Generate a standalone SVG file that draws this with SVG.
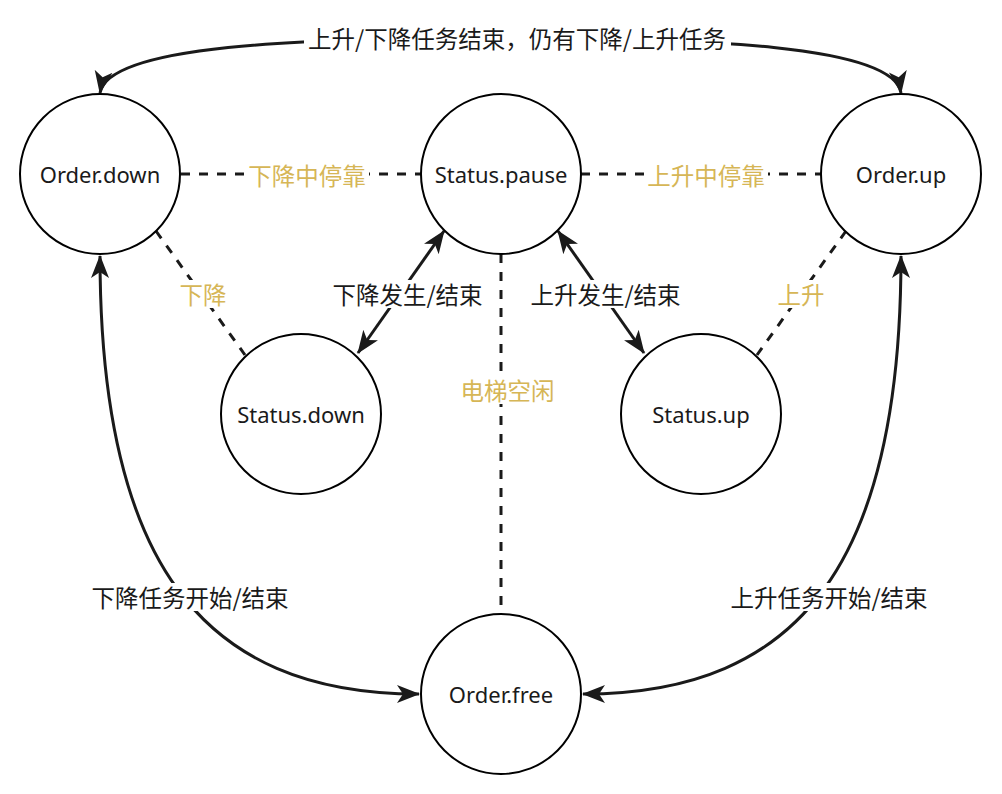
<svg xmlns="http://www.w3.org/2000/svg" width="1002" height="794" viewBox="0 0 1002 794">
<defs>
<marker id="arr" markerUnits="userSpaceOnUse" markerWidth="24" markerHeight="20" viewBox="0 0 24 20" refX="22" refY="10" orient="auto-start-reverse">
<path d="M0,1 L23,10 L0,19 L6,10 z" fill="#1a1a1a"/>
</marker>
</defs>
<style>
.node circle{fill:#fff;stroke:#000;stroke-width:2}
.node text{font-family:"Noto Sans","Liberation Sans",sans-serif;font-size:22px;fill:#1a1a1a;text-anchor:middle;dominant-baseline:central}
.solid{fill:none;stroke:#1a1a1a;stroke-width:3}
.dash{fill:none;stroke:#1a1a1a;stroke-width:3;stroke-dasharray:9 9}
.lbl{font-family:"Noto Sans CJK SC","Noto Sans",sans-serif;font-size:23.5px;text-anchor:middle;dominant-baseline:central;fill:#1a1a1a}
.gold{fill:#d6b656}
.bg{fill:#fff}
</style>
<g id="connectors">
<path class="solid" d="M100,93 C108,45 300,38 501,38 C702,38 894,45 901,93" marker-start="url(#arr)" marker-end="url(#arr)"/>
<line class="dash" x1="181" y1="174" x2="421" y2="174"/>
<line class="dash" x1="581" y1="174" x2="821" y2="174"/>
<line class="dash" x1="156" y1="231" x2="245" y2="355"/>
<line class="dash" x1="846" y1="231" x2="757" y2="355"/>
<line class="dash" x1="501" y1="254" x2="501" y2="614"/>
<line class="solid" x1="444" y1="231" x2="358" y2="353" marker-start="url(#arr)" marker-end="url(#arr)"/>
<line class="solid" x1="558" y1="231" x2="644" y2="353" marker-start="url(#arr)" marker-end="url(#arr)"/>
<path class="solid" d="M100,256 C100,560 200,694 419,694" marker-start="url(#arr)" marker-end="url(#arr)"/>
<path class="solid" d="M901,256 C901,560 802,694 583,694" marker-start="url(#arr)" marker-end="url(#arr)"/>
</g>
<g id="labels">
<rect class="bg" x="304" y="25" width="427" height="28"/>
<text class="lbl" x="517" y="38">上升/下降任务结束，仍有下降/上升任务</text>
<rect class="bg" x="245" y="161" width="124" height="28"/>
<text class="lbl gold" x="307" y="175">下降中停靠</text>
<rect class="bg" x="644" y="161" width="124" height="28"/>
<text class="lbl gold" x="706" y="175">上升中停靠</text>
<rect class="bg" x="177" y="280" width="52" height="28"/>
<text class="lbl gold" x="203" y="294">下降</text>
<rect class="bg" x="775" y="280" width="52" height="28"/>
<text class="lbl gold" x="801" y="294">上升</text>
<rect class="bg" x="330" y="280" width="155" height="28"/>
<text class="lbl" x="407.5" y="294">下降发生/结束</text>
<rect class="bg" x="528" y="280" width="155" height="28"/>
<text class="lbl" x="605.5" y="294">上升发生/结束</text>
<rect class="bg" x="457" y="376" width="101" height="28"/>
<text class="lbl gold" x="507.5" y="390">电梯空闲</text>
<rect class="bg" x="88" y="583" width="204" height="28"/>
<text class="lbl" x="190" y="597">下降任务开始/结束</text>
<rect class="bg" x="727" y="583" width="204" height="28"/>
<text class="lbl" x="829" y="597">上升任务开始/结束</text>
</g>
<g id="order-down" class="node"><circle cx="100" cy="174" r="80"/><text x="100" y="174">Order.down</text></g>
<g id="status-pause" class="node"><circle cx="501" cy="174" r="80"/><text x="501" y="174">Status.pause</text></g>
<g id="order-up" class="node"><circle cx="901" cy="174" r="80"/><text x="901" y="174">Order.up</text></g>
<g id="status-down" class="node"><circle cx="301" cy="414" r="80"/><text x="301" y="414">Status.down</text></g>
<g id="status-up" class="node"><circle cx="701" cy="414" r="80"/><text x="701" y="414">Status.up</text></g>
<g id="order-free" class="node"><circle cx="501" cy="694" r="80"/><text x="501" y="694">Order.free</text></g>
</svg>
